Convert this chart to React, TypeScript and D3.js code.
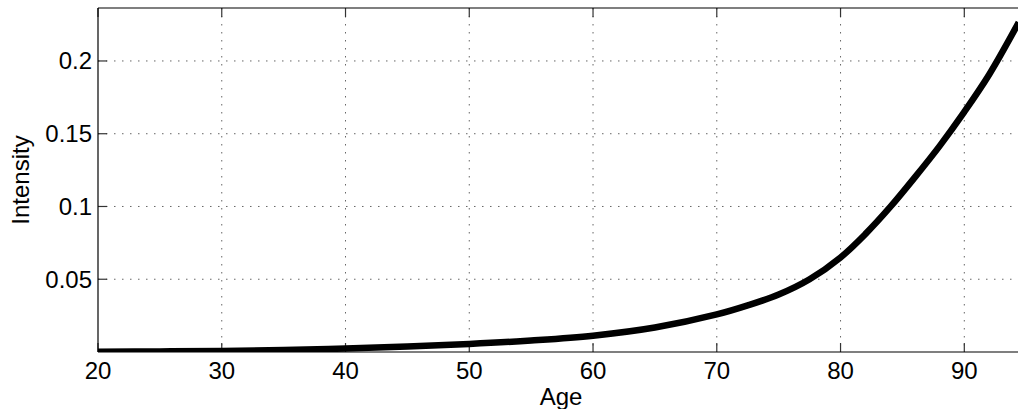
import React from "react";
import * as d3 from "d3";

const ages = [20, 25, 30, 35, 40, 45, 50, 55, 60, 65, 70, 72.5, 75, 77.5, 80, 82, 84, 86, 88, 90, 92, 94.4];
const intensity = [0.0002, 0.0004, 0.0007, 0.0013, 0.0024, 0.0037, 0.0055, 0.0079, 0.0112, 0.0168, 0.0258, 0.032, 0.0395, 0.05, 0.065, 0.081, 0.0995, 0.12, 0.1415, 0.165, 0.1905, 0.2265];
const xTicks = [20, 30, 40, 50, 60, 70, 80, 90];
const yTicks = [0.05, 0.1, 0.15, 0.2];
const yTickLabels = ["0.05", "0.1", "0.15", "0.2"];

const W = 1018;
const H = 409;
const left = 98;
const top = 8;
const bottom = 352;
const right = 1018;

export default function App() {
  const x = d3.scaleLinear().domain([20, 90]).range([left, 964.3]);
  const y = d3.scaleLinear().domain([0, 0.2364]).range([bottom, top]);
  const pts: [number, number][] = ages.map((a, i) => [a, intensity[i]]);
  const line = d3
    .line<[number, number]>()
    .x((d) => x(d[0]))
    .y((d) => y(d[1]))
    .curve(d3.curveCatmullRom.alpha(0.5));
  const font = "'Liberation Sans', Arial, Helvetica, sans-serif";
  return (
    <svg
      width={W}
      height={H}
      style={{ position: "absolute", left: 0, top: 0, background: "#fff" }}
      fontFamily={font}
    >
      <defs>
        <clipPath id="plotclip">
          <rect x={left} y={top} width={right - left + 10} height={bottom - top} />
        </clipPath>
      </defs>
      <rect x={0} y={0} width={W} height={H} fill="#fff" />
      {/* grid */}
      {xTicks.slice(1).map((t) => (
        <line key={"gx" + t} x1={x(t)} x2={x(t)} y1={top} y2={bottom} stroke="#666" strokeWidth={1} strokeDasharray="1.5,6.5" />
      ))}
      {yTicks.map((t) => (
        <line key={"gy" + t} x1={left} x2={right + 10} y1={y(t)} y2={y(t)} stroke="#666" strokeWidth={1} strokeDasharray="1.5,6.5" />
      ))}
      {/* ticks */}
      {xTicks.map((t) => (
        <g key={"tx" + t}>
          <line x1={x(t)} x2={x(t)} y1={bottom} y2={bottom - 9} stroke="#333" strokeWidth={1.2} />
          <line x1={x(t)} x2={x(t)} y1={top} y2={top + 9} stroke="#333" strokeWidth={1.2} />
          <text x={x(t)} y={379} textAnchor="middle" fontSize={24} fill="#000">
            {t}
          </text>
        </g>
      ))}
      {yTicks.map((t, i) => (
        <g key={"ty" + t}>
          <line x1={left} x2={left + 9} y1={y(t)} y2={y(t)} stroke="#333" strokeWidth={1.2} />
          <text x={92} y={y(t)} textAnchor="end" dominantBaseline="central" fontSize={24} fill="#000">
            {yTickLabels[i]}
          </text>
        </g>
      ))}
      {/* axes box */}
      <line x1={left} x2={right + 10} y1={top} y2={top} stroke="#000" strokeWidth={1.2} />
      <line x1={left} x2={left} y1={top} y2={bottom} stroke="#000" strokeWidth={1.2} />
      <line x1={left} x2={right + 10} y1={bottom} y2={bottom} stroke="#000" strokeWidth={1.2} />
      {/* curve */}
      <path d={line(pts) || ""} fill="none" stroke="#000" strokeWidth={6.5} clipPath="url(#plotclip)" strokeLinejoin="round" />
      {/* labels */}
      <text x={(left + right) / 2 + 3} y={405} textAnchor="middle" fontSize={24} fill="#000">
        Age
      </text>
      <text
        transform={`translate(29, ${(top + bottom) / 2}) rotate(-90)`}
        textAnchor="middle"
        fontSize={24}
        fill="#000"
      >
        Intensity
      </text>
    </svg>
  );
}
